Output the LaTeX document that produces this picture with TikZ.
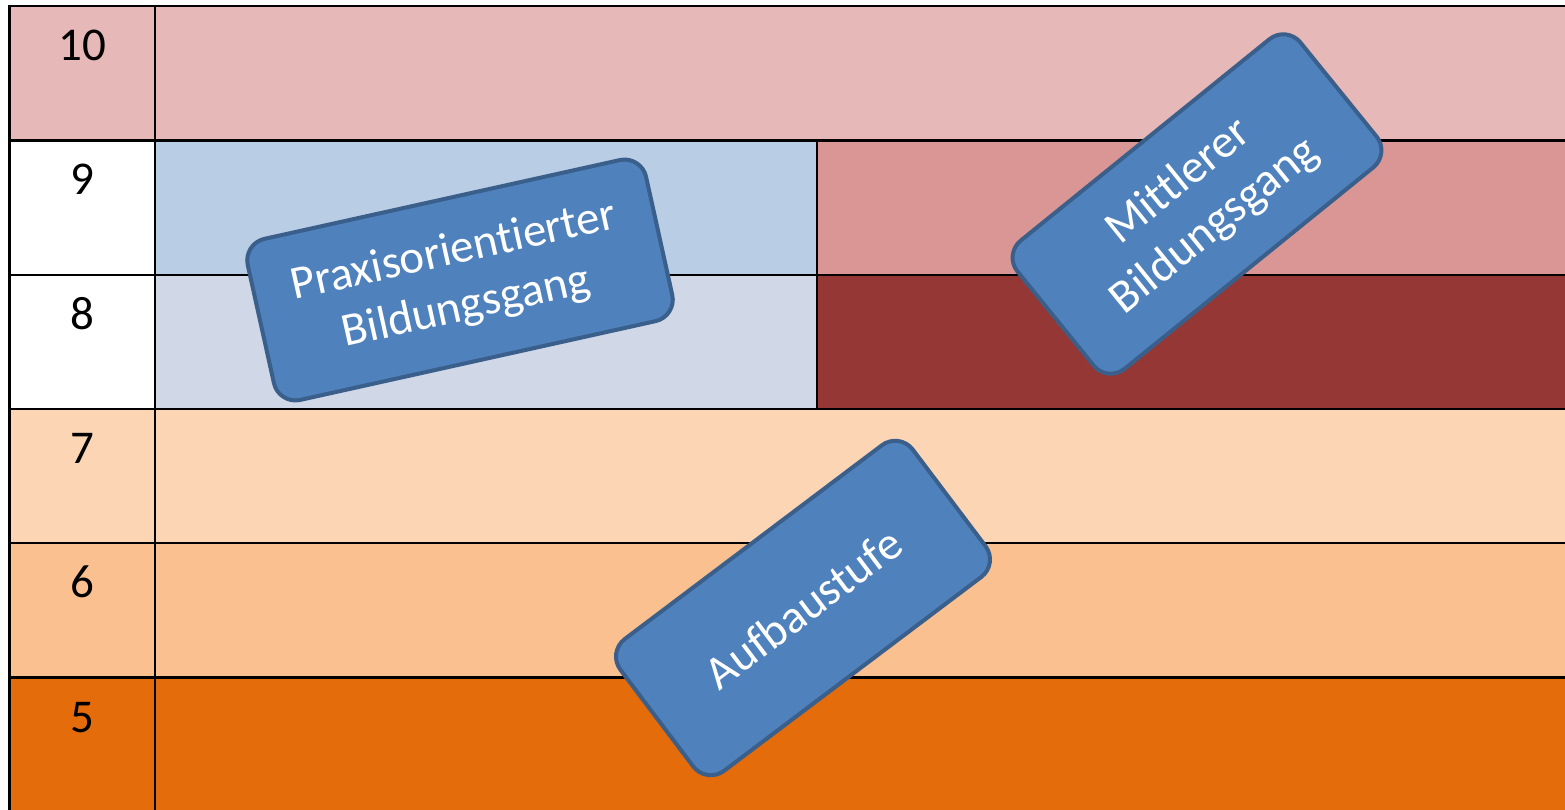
\documentclass[tikz,border=0pt]{standalone}
\usepackage{fontspec}
\setmainfont{Carlito}[RawFeature={-liga;-calt;-dlig;-clig}]
\definecolor{rTen}{HTML}{E6B8B7}
\definecolor{rNineL}{HTML}{B9CDE5}
\definecolor{rNineR}{HTML}{D99694}
\definecolor{rEightL}{HTML}{D0D8E8}
\definecolor{rEightR}{HTML}{953735}
\definecolor{rSeven}{HTML}{FCD5B5}
\definecolor{rSix}{HTML}{FAC090}
\definecolor{rFive}{HTML}{E46C0A}
\definecolor{boxFill}{HTML}{4F81BD}
\definecolor{boxLine}{HTML}{3A5F8B}
\tikzset{
  gridline/.style={draw=black, line width=2.2pt},
  numlabel/.style={anchor=base, font=\fontsize{47}{57}\selectfont, inner sep=0pt},
  tagbox/.style={draw=boxLine, line width=4pt, fill=boxFill, rounded corners=22pt,
    text=white, align=center, inner sep=0pt, minimum height=165pt,
    font=\fontsize{47}{57}\selectfont},
}
\begin{document}
\begin{tikzpicture}[x=1pt,y=-1pt]
\useasboundingbox (0,0) rectangle (1565,809);
\fill[white] (0,0) rectangle (1565,809);
\begin{scope}
\clip (0,0) rectangle (1565,809);
% row fills
\fill[rTen] (9.5,6) rectangle (1600,140.5);
\fill[white] (9.5,140.5) rectangle (155,409);
\fill[rNineL] (155,140.5) rectangle (817,275);
\fill[rNineR] (817,140.5) rectangle (1600,275);
\fill[rEightL] (155,275) rectangle (817,409);
\fill[rEightR] (817,275) rectangle (1600,409);
\fill[rSeven] (9.5,409) rectangle (1600,543);
\fill[rSix] (9.5,543) rectangle (1600,677.5);
\fill[rFive] (9.5,677.5) rectangle (1600,812);
% grid
\draw[gridline] (9.5,830) -- (9.5,6) -- (1600,6);
\draw[gridline] (155,6) -- (155,830);
\draw[gridline] (817,140.5) -- (817,409);
\draw[gridline] (9.5,140.5) -- (1600,140.5);
\draw[gridline] (9.5,275) -- (1600,275);
\draw[gridline] (9.5,409) -- (1600,409);
\draw[gridline] (9.5,543) -- (1600,543);
\draw[gridline] (9.5,677.5) -- (1600,677.5);
\draw[gridline] (9.5,812) -- (1600,812);
\end{scope}
% row numbers
\node[numlabel] (n10) at (82,60) {10};
\node[numlabel] (n9) at (82,194.5) {9};
\node[numlabel] (n8) at (82,329) {8};
\node[numlabel] (n7) at (82,463) {7};
\node[numlabel] (n6) at (82,597.5) {6};
\node[numlabel] (n5) at (82,732) {5};
% tags
\node[tagbox, minimum width=408pt, rotate=12.5] (praxis) at (460,280) {Praxisorientierter\\Bildungsgang};
\node[tagbox, minimum width=364pt, rotate=39] (mittel) at (1197,204) {Mittlerer\\Bildungsgang};
\node[tagbox, minimum width=366pt, rotate=37] (aufbau) at (803,608) {Aufbaustufe};
\end{tikzpicture}
\end{document}
